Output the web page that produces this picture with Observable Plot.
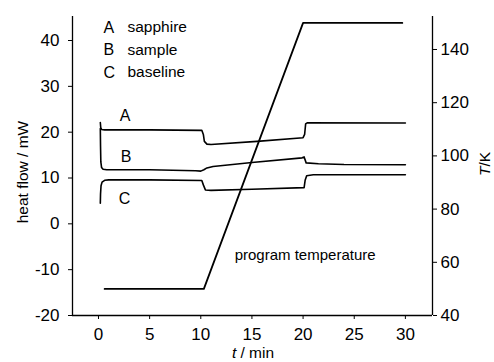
<!DOCTYPE html>
<html>
<head>
<meta charset="utf-8">
<script src="https://cdn.jsdelivr.net/npm/d3@7"></script>
<script src="https://cdn.jsdelivr.net/npm/@observablehq/plot@0.6"></script>
<style>
  html, body { margin: 0; padding: 0; background: #fff; }
  #chart svg { display: block; }
</style>
</head>
<body>
<div id="chart"></div>
<script>
// ---- data ----
const xTicks = [0, 5, 10, 15, 20, 25, 30];
const yTicks = [-20, -10, 0, 10, 20, 30, 40];
const tempTicks = [40, 60, 80, 100, 120, 140];

// curve A: sapphire
const tA = [0.18, 0.22, 0.3, 0.6, 5, 10.1, 10.25, 10.35, 10.6, 11, 15.5, 20.0, 20.15, 20.25, 20.4, 30];
const vA = [22.1, 21.0, 20.6, 20.5, 20.5, 20.4, 19.5, 18.0, 17.4, 17.3, 18.0, 18.8, 19.5, 21.8, 22.05, 22.0];
// curve B: sample
const tB = [0.18, 0.2, 0.23, 0.3, 0.45, 0.8, 5, 9.5, 10.0, 10.3, 10.6, 11.2, 15, 19.9, 20.1, 20.3, 21.5, 24, 30];
const vB = [20.8, 17, 13.5, 12.3, 11.9, 11.8, 11.8, 11.6, 11.5, 11.8, 12.2, 12.5, 13.4, 14.4, 14.6, 13.3, 13.1, 12.95, 12.9];
// curve C: baseline
const tC = [0.18, 0.2, 0.25, 0.35, 0.6, 1, 5, 10.1, 10.25, 10.45, 11, 15, 20.1, 20.2, 20.35, 21, 30];
const vC = [4.5, 6.5, 8.3, 9.1, 9.5, 9.6, 9.6, 9.45, 8.5, 7.4, 7.3, 7.55, 7.9, 9.5, 10.5, 10.7, 10.7];
// program temperature (K)
const tT = [0.6, 10.3, 20.0, 29.7];
const vT = [50, 50, 150, 150];

const curveLetters = ["A", "B", "C"];
const curveLetterT = [2.6, 2.7, 2.55];
const curveLetterV = [23.6, 14.7, 5.5];
const legendNames = ["sapphire", "sample", "baseline"];
const tempLabel = "program temperature";
const tempLabelT = 20.2;
const tempLabelV = -6.9;

// ---- mapping of the right (temperature) axis onto the left scale ----
const yDomain = [-20, 45.24];
const xDomain = [-2.54, 32.65];
const kT = 0.5804;
const toY = T => -20 + (T - 40) * kT;
const fromY = y => 40 + (y + 20) / kT;

const rows = (ts, vs) => ts.map((t, i) => ({t, v: vs[i]}));
const dataA = rows(tA, vA);
const dataB = rows(tB, vB);
const dataC = rows(tC, vC);
const dataT = tT.map((t, i) => ({t, v: toY(vT[i])}));
const letterRows = curveLetters.map((s, i) => ({s, t: curveLetterT[i], v: curveLetterV[i]}));

const FONT = '"Liberation Sans", Arial, Helvetica, sans-serif';
const lw = 1.6;

const legendMarks = curveLetters.flatMap((s, i) => [
  Plot.text([s], {text: d => d, frameAnchor: "top-left", dx: 31, dy: 11 + i * 22.5,
    textAnchor: "start", lineAnchor: "middle", fontSize: 16, fill: "black"}),
  Plot.text([legendNames[i]], {text: d => d, frameAnchor: "top-left", dx: 55, dy: 11 + i * 22.5,
    textAnchor: "start", lineAnchor: "middle", fontSize: 15.5, fill: "black"})
]);

const svg = Plot.plot({
  width: 494,
  height: 362,
  marginLeft: 72,
  marginRight: 62,
  marginTop: 16,
  marginBottom: 47,
  x: {domain: xDomain},
  y: {domain: yDomain},
  style: {fontFamily: FONT, fontSize: "17px", color: "black", background: "white", overflow: "visible"},
  marks: [
    Plot.axisX({ticks: xTicks, tickSize: 4, tickPadding: 8, label: null, tickFormat: d => String(d), fontSize: 17}),
    Plot.axisY({anchor: "left", ticks: yTicks, tickSize: 4, tickPadding: 9, label: null, tickFormat: d => String(d), fontSize: 17}),
    Plot.axisY({anchor: "right", ticks: tempTicks.map(toY), tickSize: 4, tickPadding: 4, label: null,
      tickFormat: d => String(Math.round(fromY(d))), fontSize: 17}),
    Plot.ruleX([xDomain[0], xDomain[1]], {stroke: "black", strokeWidth: 1.3}),
    Plot.ruleY([yDomain[0]], {stroke: "black", strokeWidth: 1.3}),
    Plot.line(dataT, {x: "t", y: "v", stroke: "black", strokeWidth: 1.8}),
    Plot.line(dataA, {x: "t", y: "v", stroke: "black", strokeWidth: lw}),
    Plot.line(dataB, {x: "t", y: "v", stroke: "black", strokeWidth: lw}),
    Plot.line(dataC, {x: "t", y: "v", stroke: "black", strokeWidth: lw}),
    Plot.text(letterRows, {x: "t", y: "v", text: "s", fontSize: 16, fill: "black"}),
    Plot.text([tempLabel], {x: () => tempLabelT, y: () => tempLabelV, text: d => d, fontSize: 15, fill: "black"}),
    ...legendMarks
  ]
});

document.getElementById("chart").appendChild(svg);

// axis titles (with italic symbols)
const s = d3.select(svg);
s.append("text")
  .attr("transform", "translate(23,172) rotate(-90)")
  .attr("text-anchor", "middle").attr("dy", "0.35em")
  .attr("font-family", FONT).attr("font-size", 15.5).attr("fill", "black")
  .text("heat flow / mW");

const xl = s.append("text")
  .attr("x", 253).attr("y", 358)
  .attr("text-anchor", "middle")
  .attr("font-family", FONT).attr("font-size", 15.5).attr("fill", "black");
xl.append("tspan").attr("font-style", "italic").text("t");
xl.append("tspan").text(" / min");

const rl = s.append("text")
  .attr("transform", "translate(485,164) rotate(-90)")
  .attr("text-anchor", "middle").attr("dy", "0.35em")
  .attr("font-family", FONT).attr("font-size", 15.5).attr("fill", "black");
rl.append("tspan").attr("font-style", "italic").text("T");
rl.append("tspan").text("/K");
</script>
</body>
</html>
